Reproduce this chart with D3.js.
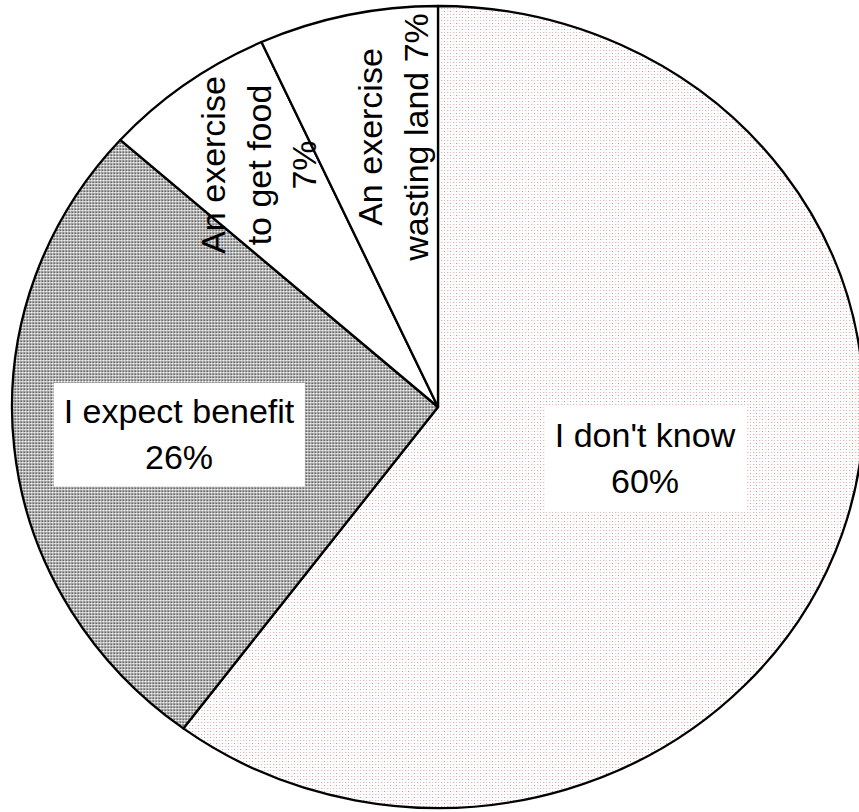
<!DOCTYPE html>
<html>
<head>
<meta charset="utf-8">
<script src="https://cdn.jsdelivr.net/npm/d3@7"></script>
<style>
  html, body { margin: 0; padding: 0; background: #fff; }
  svg { display: block; }
  text { font-family: "Liberation Sans", Arial, Helvetica, sans-serif; font-size: 34px; fill: #000; }
</style>
</head>
<body>
<svg id="chart" width="859" height="812"></svg>
<script>
// ---- data ----
const categories = ["I don't know", "I expect benefit", "An exercise to get food", "An exercise wasting land"];
const values = [60.2, 26.4, 6.6, 6.8];
const pctLabels = ["60%", "26%", "7%", "7%"];
// how each category label is broken into lines (pct appended as own line or to last line)
const labelLines = [
  ["I don't know"],
  ["I expect benefit"],
  ["An exercise", "to get food"],
  ["An exercise", "wasting land"]
];
const pctOnOwnLine = [true, true, true, false];

// ---- layout / style ----
const W = 859, H = 812;
const cx = 438, cy = 407, rx = 426, ry = 401;
const sx = rx / ry;
const lineH = 45.5;
const labelLayout = [
  { x: 645, y: 447, rot: 0, box: true },
  { x: 179, y: 423, rot: 0, box: true },
  { x: 225, y: 165, rot: -90, box: false },
  { x: 382, y: 137, rot: -90, box: false }
];
const fills = ["url(#patDots)", "url(#patGray)", "#ffffff", "#ffffff"];

const svg = d3.select("#chart");
const defs = svg.append("defs");

// dotted pinkish pattern
const pd = defs.append("pattern").attr("id", "patDots")
  .attr("patternUnits", "userSpaceOnUse").attr("width", 6).attr("height", 6)
  .attr("patternTransform", `scale(${1 / sx},1)`);
pd.append("rect").attr("width", 6).attr("height", 6).attr("fill", "#ffffff");
[[0, 0, "#c98c8c"], [3, 0, "#ecc4c4"], [0, 3, "#e6bcbc"], [3, 3, "#b88a8a"]].forEach(([x, y, c]) =>
  pd.append("rect").attr("x", x).attr("y", y).attr("width", 1).attr("height", 1)
    .attr("fill", c).attr("shape-rendering", "crispEdges"));

// dense gray pattern
const pg = defs.append("pattern").attr("id", "patGray")
  .attr("patternUnits", "userSpaceOnUse").attr("width", 3).attr("height", 3)
  .attr("patternTransform", `scale(${1 / sx},1)`);
const grayCells = [
  ["#5c5c5c", "#b4b4b4", "#8c8c8c"],
  ["#c8c8c8", "#f2f2f2", "#c0c0c0"],
  ["#8c8c8c", "#bcbcbc", "#9a9a9a"]
];
grayCells.forEach((row, y) => row.forEach((c, x) =>
  pg.append("rect").attr("x", x).attr("y", y).attr("width", 1).attr("height", 1)
    .attr("fill", c).attr("shape-rendering", "crispEdges")));

const data = categories.map((c, i) => ({ cat: c, v: values[i], i }));
const pie = d3.pie().sort(null).value(d => d.v);
const arcs = pie(data);
const arc = d3.arc().innerRadius(0).outerRadius(ry);

const g = svg.append("g").attr("transform", `translate(${cx},${cy}) scale(${sx},1)`);
g.selectAll("path.slice").data(arcs).join("path")
  .attr("class", "slice")
  .attr("d", arc)
  .attr("fill", d => fills[d.data.i])
  .attr("stroke", "#000")
  .attr("stroke-width", 2.3)
  .attr("stroke-linejoin", "round")
  .attr("vector-effect", "non-scaling-stroke");

// labels
const labG = svg.append("g");
arcs.forEach(a => {
  const i = a.data.i;
  const L = labelLayout[i];
  let lines = labelLines[i].slice();
  if (pctOnOwnLine[i]) lines.push(pctLabels[i]);
  else lines[lines.length - 1] = lines[lines.length - 1] + " " + pctLabels[i];
  const lg = labG.append("g").attr("transform", `translate(${L.x},${L.y}) rotate(${L.rot})`);
  const rect = lg.append("rect").attr("fill", "#fff");
  const t = lg.append("text").attr("text-anchor", "middle");
  lines.forEach((ln, k) => t.append("tspan").attr("x", 0).attr("y", k * lineH).text(ln));
  if (L.box) {
    const bb = t.node().getBBox();
    rect.attr("x", bb.x - 10).attr("y", bb.y - 9).attr("width", bb.width + 20).attr("height", bb.height + 20);
  } else {
    rect.remove();
  }
});
</script>
</body>
</html>
